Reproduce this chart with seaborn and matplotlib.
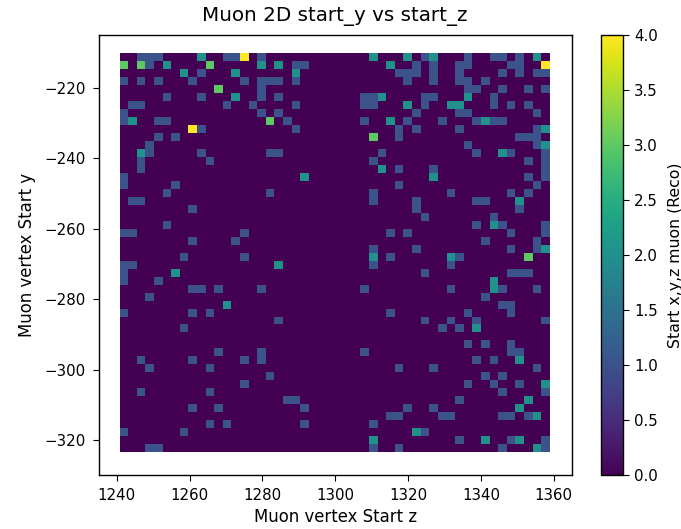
import numpy as np
import pandas as pd
import matplotlib
matplotlib.use('Agg')
import matplotlib.pyplot as plt
import seaborn as sns

plt.rcParams.update({
    'font.size': 10.8,
    'axes.linewidth': 1.0,
    'xtick.major.size': 4,
    'ytick.major.size': 4,
    'xtick.major.pad': 5.5,
    'ytick.major.pad': 5.5,
})

# Bin setup of the 2D histogram
N_BINS = 50
Z_RANGE = (1240.8, 1358.9)
Y_RANGE = (-323.4, -210.05)
Z_LIMITS = (1235.06, 1364.93)
Y_LIMITS = (-329.85, -205.04)

# Cells holding one entry: columns for each row, top row first
ones_by_row = [
    [2, 3, 4, 12, 13, 16, 35, 40, 43, 44, 46],
    [3, 20, 21, 34, 36, 39, 40, 45, 46],
    [9, 32, 33, 34, 36, 39, 44, 46, 48, 49],
    [0, 2, 4, 8, 14, 16, 17, 18, 20, 33, 36, 39, 40, 42],
    [16, 40, 41, 44, 47, 49],
    [5, 9, 16, 18, 28, 29, 35, 36, 43],
    [1, 2, 12, 15, 20, 28, 29, 35, 43, 45, 47],
    [0, 16, 18, 34, 39, 40, 48],
    [0, 4, 5, 19, 28, 33, 37, 41, 43, 44],
    [9, 20, 32, 34, 39, 48],
    [4, 6, 32, 46, 47, 48],
    [3, 40, 48],
    [3, 9, 17, 18, 30, 41, 45, 49],
    [2, 10, 29, 47, 49],
    [2, 32, 36, 49],
    [0, 47, 49],
    [0, 6, 32, 48],
    [5, 17, 29, 38, 45, 47],
    [1, 2, 29, 34, 41, 42],
    [8, 34, 46],
    [35, 43],
    [5, 41, 44, 49],
    [0, 1, 14, 31, 33, 45, 49],
    [8, 13, 42, 48],
    [29, 34, 45, 48],
    [7, 14, 31, 39],
    [0, 1, 29, 38],
    [0, 35, 45, 46, 47],
    [0, 4],
    [8, 9, 11, 16, 28, 38, 44, 48],
    [3, 42],
    [44, 45],
    [0, 8, 10, 31, 40, 45],
    [18, 35, 38, 41, 49],
    [7, 37, 39],
    [],
    [40, 42, 45],
    [11, 16, 28, 45, 46],
    [2, 8, 14, 16, 41, 43],
    [3, 10, 32, 36, 48],
    [17, 42, 44],
    [14, 40, 43, 46],
    [2, 10, 44, 49],
    [19, 20, 39],
    [8, 11, 21, 33, 36],
    [31, 32, 37, 38, 44, 45, 47],
    [10, 12, 21, 29],
    [0, 7, 35],
    [39, 45, 49],
    [3, 4, 29, 32, 44, 49],
]

# Cells holding more entries, as (row, column)
twos = [
    (0, 9), (0, 29), (0, 33), (0, 36), (0, 48), (1, 5), (1, 16), (1, 18), (1, 31),
    (2, 7), (2, 13), (2, 20), (5, 13), (5, 30), (5, 40), (6, 33), (6, 38), (6, 39),
    (8, 1), (8, 31), (8, 42), (9, 49), (11, 49), (12, 2), (12, 44), (14, 30), (15, 21),
    (15, 36), (18, 46), (21, 43), (24, 49), (25, 29), (25, 38), (26, 18), (27, 6),
    (28, 43), (29, 43), (31, 12), (34, 41), (38, 46), (41, 49), (43, 47), (44, 46),
    (45, 48), (47, 34), (48, 29), (48, 42), (48, 46), (49, 48),
]
threes = [(1, 0), (1, 2), (1, 10), (4, 11), (8, 17), (10, 29), (25, 47)]
fours = [(0, 14), (1, 49), (9, 8)]

# Turn the cells into one weighted record per bin centre
z_width = (Z_RANGE[1] - Z_RANGE[0]) / N_BINS
y_width = (Y_RANGE[1] - Y_RANGE[0]) / N_BINS
z_centers = Z_RANGE[0] + z_width * (np.arange(N_BINS) + 0.5)
y_centers = Y_RANGE[1] - y_width * (np.arange(N_BINS) + 0.5)

records = []
for row, cols in enumerate(ones_by_row):
    records += [(z_centers[col], y_centers[row], 1) for col in cols]
for count, cells in [(2, twos), (3, threes), (4, fours)]:
    records += [(z_centers[col], y_centers[row], count) for row, col in cells]
df = pd.DataFrame(records, columns=['start_z', 'start_y', 'count'])

fig = plt.figure(figsize=(6.81, 5.29), dpi=100)
ax = fig.add_axes([98.7 / 681, 54 / 529, 473 / 681, 439.7 / 529])
cax = fig.add_axes([601.3 / 681, 54 / 529, 21.5 / 681, 439.7 / 529])

sns.histplot(
    data=df,
    x='start_z',
    y='start_y',
    weights='count',
    bins=N_BINS,
    binrange=(Z_RANGE, Y_RANGE),
    cmap='viridis',
    thresh=None,
    vmin=0,
    vmax=4,
    cbar=True,
    cbar_ax=cax,
    ax=ax,
)
ax.set_xlim(*Z_LIMITS)
ax.set_ylim(*Y_LIMITS)
ax.set_title('Muon 2D start_y vs start_z', fontsize=14.3, pad=10)
ax.set_xlabel('Muon vertex Start z', fontsize=11.9, labelpad=3.5)
ax.set_ylabel('Muon vertex Start y', fontsize=11.9, labelpad=6)
cax.tick_params(pad=4)
cax.set_ylabel('Start x,y,z muon (Reco)', fontsize=11.3, labelpad=7)

fig.savefig('out.png', dpi=100)
